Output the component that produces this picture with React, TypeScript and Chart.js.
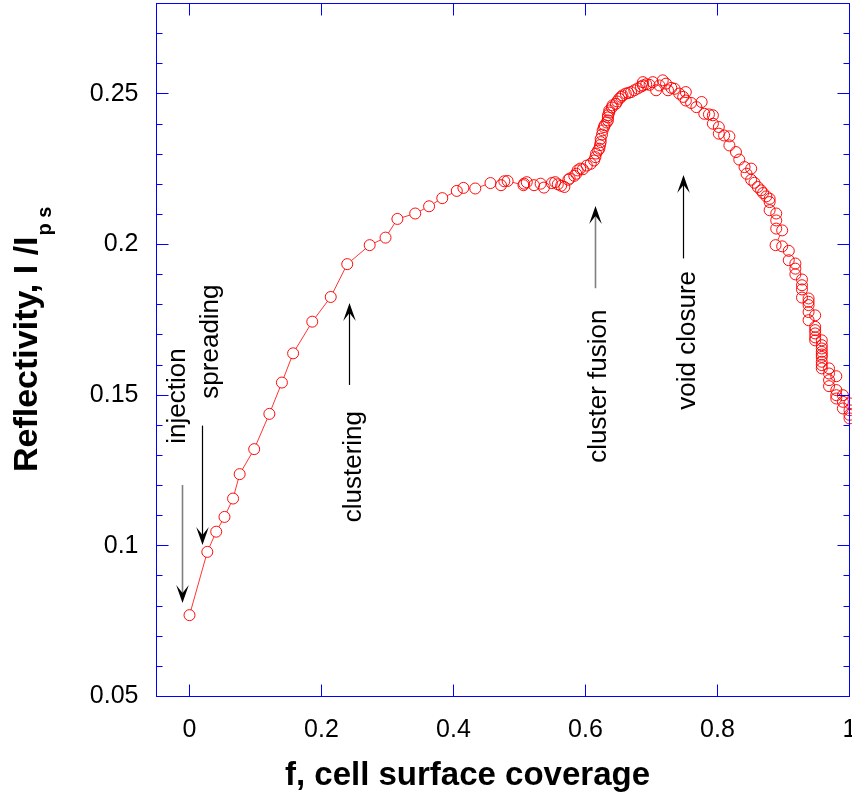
import React, { useEffect, useRef } from "react";
import { Chart, registerables } from "chart.js";

Chart.register(...registerables);

// ---- data ----
const coverage: number[] = [
  0.0, 0.027, 0.0405, 0.053, 0.066, 0.076, 0.098, 0.121, 0.14, 0.157,
  0.186, 0.214, 0.239, 0.273, 0.297, 0.315, 0.342, 0.363, 0.383, 0.405,
  0.415, 0.433, 0.456, 0.472, 0.477, 0.482, 0.506, 0.507, 0.511, 0.522,
  0.532, 0.537, 0.549, 0.554, 0.558, 0.563, 0.568, 0.574, 0.576, 0.583,
  0.586, 0.588, 0.592, 0.596, 0.602, 0.608, 0.613, 0.615, 0.616, 0.619,
  0.621, 0.622, 0.623, 0.623, 0.625, 0.626, 0.628, 0.629, 0.632, 0.634,
  0.634, 0.634, 0.636, 0.636, 0.64, 0.641, 0.646, 0.648, 0.651, 0.654,
  0.656, 0.661, 0.665, 0.669, 0.674, 0.679, 0.684, 0.687, 0.687, 0.692,
  0.697, 0.702, 0.707, 0.712, 0.717, 0.722, 0.725, 0.73, 0.735, 0.742,
  0.748, 0.752, 0.752, 0.76, 0.768, 0.776, 0.78, 0.787, 0.793, 0.793,
  0.802, 0.802, 0.81, 0.818, 0.818, 0.828, 0.833, 0.841, 0.844, 0.851,
  0.851, 0.856, 0.861, 0.866, 0.869, 0.874, 0.879, 0.879, 0.879, 0.889,
  0.889, 0.889, 0.898, 0.888, 0.898, 0.908, 0.908, 0.918, 0.918, 0.918,
  0.928, 0.928, 0.928, 0.928, 0.938, 0.938, 0.938, 0.938, 0.948, 0.938,
  0.948, 0.948, 0.948, 0.948, 0.948, 0.958, 0.958, 0.958, 0.958, 0.958,
  0.958, 0.958, 0.958, 0.958, 0.969, 0.969, 0.98, 0.969, 0.969, 0.98,
  0.98, 0.98, 0.99, 0.99, 0.99, 1.0, 1.0, 1.0, 1.0,
];

const reflectivity: number[] = [
  0.077, 0.098, 0.1047, 0.1096, 0.1157, 0.1238, 0.1321, 0.1438, 0.1542, 0.1639,
  0.1744, 0.1826, 0.1935, 0.1998, 0.2023, 0.2085, 0.2103, 0.2127, 0.2154, 0.2178,
  0.2188, 0.2186, 0.2204, 0.2197, 0.221, 0.2211, 0.2197, 0.2202, 0.2207, 0.2197,
  0.2202, 0.2189, 0.2204, 0.2207, 0.22, 0.2195, 0.2191, 0.2215, 0.2219, 0.2228,
  0.2235, 0.2246, 0.2252, 0.225, 0.2262, 0.2268, 0.2279, 0.229, 0.2302, 0.2312,
  0.2318, 0.233, 0.234, 0.2351, 0.2365, 0.2379, 0.239, 0.2396, 0.2405, 0.2412,
  0.2422, 0.2429, 0.2438, 0.2445, 0.2455, 0.2462, 0.2467, 0.2475, 0.2484, 0.249,
  0.2495, 0.2501, 0.2503, 0.2506, 0.2512, 0.2518, 0.2524, 0.2528, 0.2539, 0.2532,
  0.253, 0.2539, 0.2512, 0.2528, 0.2545, 0.2534, 0.2512, 0.252, 0.2517, 0.2501,
  0.249, 0.2506, 0.2478, 0.247, 0.2456, 0.2473, 0.2434, 0.2432, 0.2429, 0.2401,
  0.239, 0.2368, 0.2362, 0.2359, 0.2329, 0.2307, 0.2282, 0.2257, 0.2235, 0.2252,
  0.2215, 0.2205, 0.2191, 0.218, 0.2171, 0.216, 0.2152, 0.2141, 0.2114, 0.2103,
  0.208, 0.2053, 0.2047, 0.1998, 0.1994, 0.1979, 0.1948, 0.1937, 0.192, 0.1901,
  0.1884, 0.1865, 0.1851, 0.1824, 0.1821, 0.181, 0.1799, 0.1776, 0.1765, 0.1749,
  0.1727, 0.1716, 0.1705, 0.1692, 0.1682, 0.1682, 0.1666, 0.1655, 0.1644, 0.1635,
  0.1627, 0.1611, 0.16, 0.1589, 0.1589, 0.1572, 0.1563, 0.155, 0.153, 0.1517,
  0.15, 0.1489, 0.15, 0.1478, 0.1456, 0.1473, 0.145, 0.1435, 0.1423,
];

const xTickValues = [0, 0.2, 0.4, 0.6, 0.8, 1];
const xTickLabels = ["0", "0.2", "0.4", "0.6", "0.8", "1"];
const yTickValues = [0.05, 0.1, 0.15, 0.2, 0.25];
const yTickLabels = ["0.05", "0.1", "0.15", "0.2", "0.25"];
const yMinorTickValues = [
  0.05, 0.06, 0.07, 0.08, 0.09, 0.1, 0.11, 0.12, 0.13, 0.14, 0.15, 0.16,
  0.17, 0.18, 0.19, 0.2, 0.21, 0.22, 0.23, 0.24, 0.25, 0.26, 0.27, 0.28,
];
const xLimits = [-0.05, 1];
const yLimits = [0.05, 0.28];

const xTitle = "f, cell surface coverage";
const yTitle = "Reflectivity, I /I";
const ySubscripts = ["p", "s"];

// annotation anchors, in data units
const annotations = [
  { text: "injection", x: -0.0103, tail: 0.1202, head: 0.081, tx: -0.0068, ty: 0.1497, shaft: "#808080" },
  { text: "spreading", x: 0.0194, tail: 0.1399, head: 0.1003, tx: 0.0432, ty: 0.1678, shaft: "#000000" },
  { text: "clustering", x: 0.2417, tail: 0.1534, head: 0.1806, tx: 0.2598, ty: 0.1263, shaft: "#000000" },
  { text: "cluster fusion", x: 0.6144, tail: 0.1855, head: 0.2128, tx: 0.6311, ty: 0.153, shaft: "#808080" },
  { text: "void closure", x: 0.7482, tail: 0.1954, head: 0.2231, tx: 0.7659, ty: 0.1682, shaft: "#000000" },
];

const FONT = "'Liberation Sans', Arial, Helvetica, sans-serif";
const AXIS_BLUE = "#0000ff";

function labelFor(values: number[], labels: string[], v: number) {
  const i = values.findIndex((t) => Math.abs(t - v) < 1e-9);
  return i >= 0 ? labels[i] : "";
}

function zeroPadding(s: any) {
  s.paddingTop = 0;
  s.paddingBottom = 0;
  s.paddingLeft = 0;
  s.paddingRight = 0;
}

const frameTicksPlugin = {
  id: "frameTicks",
  afterDatasetsDraw(chart: any) {
    const { ctx, chartArea: a, scales } = chart;
    const xs = scales.x;
    const ys = scales.y;
    ctx.save();
    ctx.strokeStyle = AXIS_BLUE;
    ctx.lineWidth = 1;
    ctx.strokeRect(a.left, a.top, a.right - a.left, a.bottom - a.top);
    ctx.beginPath();
    for (const v of xTickValues) {
      const px = Math.floor(xs.getPixelForValue(v)) + 0.5;
      ctx.moveTo(px, a.bottom);
      ctx.lineTo(px, a.bottom - 12);
      ctx.moveTo(px, a.top);
      ctx.lineTo(px, a.top + 12);
    }
    for (const v of yMinorTickValues) {
      const major = yTickValues.some((t) => Math.abs(t - v) < 1e-9);
      const len = major ? 12 : 6;
      const py = Math.floor(ys.getPixelForValue(v)) + 0.5;
      ctx.moveTo(a.left, py);
      ctx.lineTo(a.left + len, py);
      ctx.moveTo(a.right, py);
      ctx.lineTo(a.right - len, py);
    }
    ctx.stroke();
    ctx.restore();
  },
};

function drawArrow(ctx: CanvasRenderingContext2D, x: number, yTail: number, yTip: number, shaft: string) {
  const dir = Math.sign(yTip - yTail);
  const headLen = 18;
  const half = 6.3;
  const notch = 8;
  ctx.strokeStyle = shaft;
  ctx.lineWidth = shaft === "#000000" ? 1.2 : 1.6;
  ctx.beginPath();
  ctx.moveTo(x, yTail);
  ctx.lineTo(x, yTip - dir * (headLen - notch));
  ctx.stroke();
  ctx.fillStyle = "#000";
  ctx.beginPath();
  ctx.moveTo(x, yTip);
  ctx.lineTo(x - half, yTip - dir * headLen);
  ctx.lineTo(x, yTip - dir * (headLen - notch));
  ctx.lineTo(x + half, yTip - dir * headLen);
  ctx.closePath();
  ctx.fill();
}

const annotationPlugin = {
  id: "annotationsAndTitles",
  afterDraw(chart: any) {
    const { ctx, chartArea: a, scales } = chart;
    const xs = scales.x;
    const ys = scales.y;
    ctx.save();
    for (const an of annotations) {
      const x = Math.floor(xs.getPixelForValue(an.x)) + 0.5;
      drawArrow(ctx, x, ys.getPixelForValue(an.tail), ys.getPixelForValue(an.head), an.shaft);
      ctx.save();
      ctx.translate(xs.getPixelForValue(an.tx), ys.getPixelForValue(an.ty));
      ctx.rotate(-Math.PI / 2);
      ctx.font = `26px ${FONT}`;
      ctx.fillStyle = "#000";
      ctx.textAlign = "center";
      ctx.textBaseline = "alphabetic";
      ctx.fillText(an.text, 0, 0);
      ctx.restore();
    }
    // x title
    ctx.font = `bold 33px ${FONT}`;
    ctx.fillStyle = "#000";
    ctx.textAlign = "center";
    ctx.textBaseline = "alphabetic";
    ctx.fillText(xTitle, xs.getPixelForValue(0.4212), a.bottom + 88.5);
    // y title with subscripts
    ctx.save();
    ctx.translate(a.left - 119.5, ys.getPixelForValue(0.1245));
    ctx.rotate(-Math.PI / 2);
    ctx.font = `bold 34px ${FONT}`;
    ctx.textAlign = "left";
    ctx.fillText(yTitle, 0, 0);
    const w = ctx.measureText(yTitle).width;
    ctx.font = `bold 20px ${FONT}`;
    const pw = ctx.measureText(ySubscripts[0] + " ").width;
    ctx.fillText(ySubscripts[0], w + 1, 14);
    ctx.fillText(ySubscripts[1], w + 1 + pw, 14);
    ctx.restore();
    ctx.restore();
  },
};

export default function App() {
  const ref = useRef<HTMLCanvasElement>(null);

  useEffect(() => {
    const points = coverage.map((x, i) => ({ x, y: reflectivity[i] }));
    const chart = new Chart(ref.current!, {
      type: "scatter",
      data: {
        datasets: [
          {
            data: points,
            showLine: false,
            pointRadius: 5.5,
            pointBorderWidth: 1,
            pointBorderColor: "rgba(255,0,0,0.95)",
            pointBackgroundColor: "rgba(255,255,255,0)",
            order: 0,
            clip: false as any,
          },
          {
            data: points,
            showLine: true,
            borderColor: "rgba(255,30,30,0.9)",
            borderWidth: 1,
            tension: 0,
            pointRadius: 5.5,
            pointBorderWidth: 0,
            pointBackgroundColor: "#ffffff",
            order: 1,
            clip: false as any,
          },
        ],
      },
      options: {
        responsive: false,
        animation: false,
        events: [],
        layout: { autoPadding: false, padding: { top: 3.5, right: 2.5, bottom: 0, left: 0 } },
        plugins: { legend: { display: false }, tooltip: { enabled: false } },
        scales: {
          x: {
            type: "linear",
            min: xLimits[0],
            max: xLimits[1],
            afterBuildTicks: (s: any) => {
              s.ticks = xTickValues.map((v) => ({ value: v }));
            },
            afterFit: (s: any) => {
              s.height = 99.5;
              zeroPadding(s);
            },
            ticks: {
              callback: (v: any) => labelFor(xTickValues, xTickLabels, Number(v)),
              font: { family: FONT, size: 25 },
              color: "#000",
              padding: 19,
              maxRotation: 0,
              autoSkip: false,
            },
            grid: { display: false, drawTicks: false, tickLength: 0 },
            border: { display: false },
          },
          y: {
            type: "linear",
            min: yLimits[0],
            max: yLimits[1],
            afterBuildTicks: (s: any) => {
              s.ticks = yTickValues.map((v) => ({ value: v }));
            },
            afterFit: (s: any) => {
              s.width = 156.5;
              zeroPadding(s);
            },
            ticks: {
              callback: (v: any) => labelFor(yTickValues, yTickLabels, Number(v)),
              font: { family: FONT, size: 25 },
              color: "#000",
              padding: 18,
              autoSkip: false,
            },
            grid: { display: false, drawTicks: false, tickLength: 0 },
            border: { display: false },
          },
        },
      },
      plugins: [frameTicksPlugin, annotationPlugin],
    } as any);
    return () => chart.destroy();
  }, []);

  return (
    <div style={{ position: "fixed", left: 0, top: 0, width: 852, height: 796, background: "#fff" }}>
      <canvas ref={ref} width={852} height={796} style={{ display: "block", width: 852, height: 796 }} />
    </div>
  );
}
